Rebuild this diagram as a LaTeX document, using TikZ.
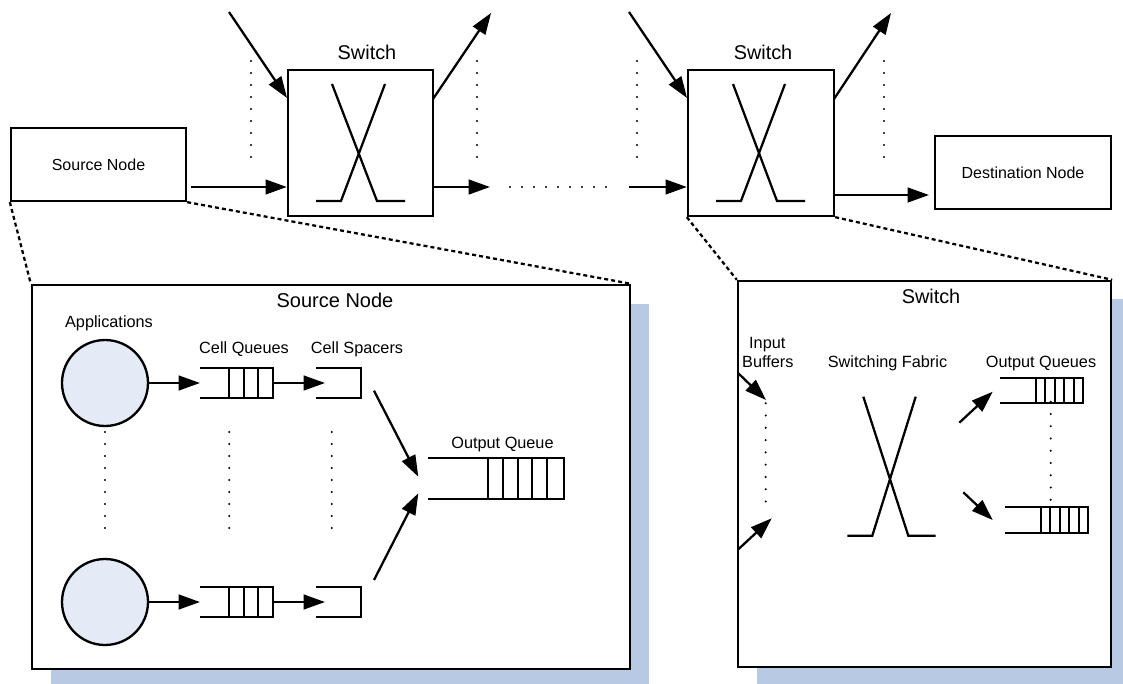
\documentclass[tikz,border=0pt]{standalone}
\usepackage{fontspec}
\setmainfont{Liberation Sans}
\usetikzlibrary{arrows.meta,calc}
\definecolor{shadowblue}{HTML}{B8C9E3}
\definecolor{appfill}{HTML}{E4EBF6}
\begin{document}
\begin{tikzpicture}[x=0.75pt,y=-0.75pt,
  line join=miter,
  box/.style={draw, line width=1.75pt, fill=white, inner sep=0pt},
  shape line/.style={line width=1.7pt},
  arr/.style={line width=1.7pt, -{Triangle[length=16pt,width=11pt]}},
  dotline/.style={line width=1.7pt, line cap=round, dash pattern=on 0pt off #1},
  dotline/.default=9pt,
  zoomline/.style={line width=1.7pt, dash pattern=on 3pt off 2.3pt},
  shadow/.style={fill=shadowblue, draw=none},
  lbl/.style={anchor=base, inner sep=0pt, font=\fontsize{12.2}{14}\selectfont},
  title/.style={anchor=base, inner sep=0pt, font=\fontsize{14.9}{17}\selectfont},
  nodetext/.style={font=\fontsize{12}{14}\selectfont}
]
\useasboundingbox (0,0) rectangle (1123,684);
\clip (0,0) rectangle (1123,684);

% ---------- top row ----------
\node[box, nodetext, minimum width=131.25pt, minimum height=54.75pt] (src) at (98.5,164.5) {Source Node};
\node[box, minimum width=108.75pt, minimum height=109.5pt] (sw1) at (360.5,143) {};
\node[box, minimum width=109.5pt, minimum height=109.5pt] (sw2) at (761,143) {};
\node[box, nodetext, minimum width=132pt, minimum height=54.75pt] (dst) at (1023,172.5) {Destination Node};
\node[title] (sw1lbl) at (367,60) {Switch};
\node[title] (sw2lbl) at (763,60) {Switch};

% crossbars in top switches
\draw[shape line] (332,84) -- (377,201) -- (405,201);
\draw[shape line] (385,84) -- (341,201) -- (316,201);
\draw[shape line] (733,84) -- (777,201) -- (805,201);
\draw[shape line] (785,84) -- (741,201) -- (716,201);

% connectors top
\coordinate (a1) at (191,187);
\draw[arr] (a1) -- (a1 -| sw1.west);
\coordinate (in1) at (229,12);
\coordinate (in1e) at (287,98);
\draw[arr] (in1) -- (in1e);
\coordinate (out1s) at (433,99);
\coordinate (out1) at (491,13);
\draw[arr] (out1s) -- (out1);
\coordinate (o1s) at (433,187);
\coordinate (o1e) at (490,187);
\draw[arr] (o1s) -- (o1e);
\coordinate (hd1) at (510,187);
\coordinate (hd2) at (606,187);
\draw[dotline] (hd1) -- (hd2);
\coordinate (a2) at (629,187);
\draw[arr] (a2) -- (a2 -| sw2.west);
\coordinate (in2) at (629,12);
\coordinate (in2e) at (687,98);
\draw[arr] (in2) -- (in2e);
\coordinate (out2s) at (834,99);
\coordinate (out2) at (891,13);
\draw[arr] (out2s) -- (out2);
\coordinate (d1) at (834,195);
\coordinate (d2) at (929,195);
\draw[arr] (d1) -- (d2);

% vertical dots top
\draw[dotline] (251,61) -- (251,157);
\draw[dotline] (477,61) -- (477,157);
\draw[dotline] (637,61) -- (637,157);
\draw[dotline] (884,61) -- (884,157);

% ---------- zoom lines and inner boxes ----------
\fill[shadow] (50.5,303.5) rectangle (649,690);
\fill[shadow] (756.5,299) rectangle (1130,690);
\node[box, minimum width=448.5pt, minimum height=288pt] (isrc) at (331,477) {};
\node[box, minimum width=279.75pt, minimum height=289.5pt] (isw) at (924.5,474) {};
\draw[zoomline] (src.south west) -- (isrc.north west);
\draw[zoomline] (src.south east) -- (isrc.north east);
\draw[zoomline] (sw2.south west) -- (isw.north west);
\draw[zoomline] (sw2.south east) -- (isw.north east);

% ---------- inner source node ----------
\node[title, font=\fontsize{15}{18}\selectfont] (isrcT) at (335,307) {Source Node};
\node[lbl] (appl) at (109,327) {Applications};
\node[lbl] (cql) at (244,353) {Cell Queues};
\node[lbl] (csl) at (357,353) {Cell Spacers};
\node[lbl] (oql) at (502.5,448) {Output Queue};

\node[circle, draw, line width=1.75pt, fill=appfill, minimum size=64.5pt, inner sep=0pt] (app1) at (105,383) {};
\node[circle, draw, line width=1.75pt, fill=appfill, minimum size=64.5pt, inner sep=0pt] (app2) at (105,602) {};

% cell queues
\foreach \y in {383,602}{
  \draw[shape line] (200,\y-14.7) -- (273.3,\y-14.7) -- (273.3,\y+14.7) -- (200,\y+14.7);
  \foreach \x in {229,243.7,258.3}{\draw[shape line] (\x,\y-14.7) -- (\x,\y+14.7);}
  \draw[shape line] (316,\y-14.7) -- (361,\y-14.7) -- (361,\y+14.7) -- (316,\y+14.7);
}
\coordinate (q1in) at (200,383);
\coordinate (q2in) at (200,602);
\draw[arr] (app1.east) -- (q1in);
\draw[arr] (app2.east) -- (q2in);
\coordinate (q1out) at (273.3,383);
\coordinate (s1in) at (325,383);
\draw[arr] (q1out) -- (s1in);
\coordinate (q2out) at (273.3,602);
\coordinate (s2in) at (325,602);
\draw[arr] (q2out) -- (s2in);

% output queue
\draw[shape line] (428.3,457.7) -- (564.3,457.7) -- (564.3,499.3) -- (428.3,499.3);
\foreach \x in {488.3,503,517.7,532.3,546.7}{\draw[shape line] (\x,457.7) -- (\x,499.3);}
\coordinate (s1out) at (374,390.7);
\coordinate (oq1) at (418.3,476.7);
\draw[arr] (s1out) -- (oq1);
\coordinate (s2out) at (374,580);
\coordinate (oq2) at (418.3,493.3);
\draw[arr] (s2out) -- (oq2);

% vertical dots
\draw[dotline] (105,432) -- (105,528);
\draw[dotline] (229.3,432) -- (229.3,528);
\draw[dotline] (331.7,432) -- (331.7,528);

% ---------- inner switch ----------
\node[title] (iswT) at (931,303) {Switch};
\node[lbl] (inl) at (767.3,348.5) {Input};
\node[lbl] (bufl) at (767.8,367.5) {Buffers};
\node[lbl] (sfl) at (887.5,367) {Switching Fabric};
\node[lbl] (oqsl) at (1041,367) {Output Queues};

\coordinate (ib1s) at (738.3,373.3);
\coordinate (ib1e) at (766,400);
\draw[arr] (ib1s) -- (ib1e);
\coordinate (ib2s) at (738.3,549.3);
\coordinate (ib2e) at (771.7,518.3);
\draw[arr] (ib2s) -- (ib2e);
\draw[dotline=9.2pt] (765.7,403.3) -- (765.7,501.7);

\draw[shape line] (863.3,396.7) -- (908.3,535.7) -- (935.7,535.7);
\draw[shape line] (915.7,396.7) -- (872.3,535.7) -- (847.3,535.7);

\coordinate (f1s) at (959.3,422.7);
\coordinate (f1e) at (992.7,391.7);
\draw[arr] (f1s) -- (f1e);
\coordinate (f2s) at (963.3,492.3);
\coordinate (f2e) at (992.7,520);
\draw[arr] (f2s) -- (f2e);

\draw[shape line] (1000,377.7) -- (1083.3,377.7) -- (1083.3,403.3) -- (1000,403.3);
\foreach \x in {1036,1045.3,1055,1064.3,1073.7}{\draw[shape line] (\x,377.7) -- (\x,403.3);}
\draw[shape line] (1005,507.3) -- (1088.3,507.3) -- (1088.3,532.7) -- (1005,532.7);
\foreach \x in {1041,1050,1059.7,1069,1078.7}{\draw[shape line] (\x,507.3) -- (\x,532.7);}
\draw[dotline=9.2pt] (1050.7,401.7) -- (1050.7,500);
\end{tikzpicture}
\end{document}
